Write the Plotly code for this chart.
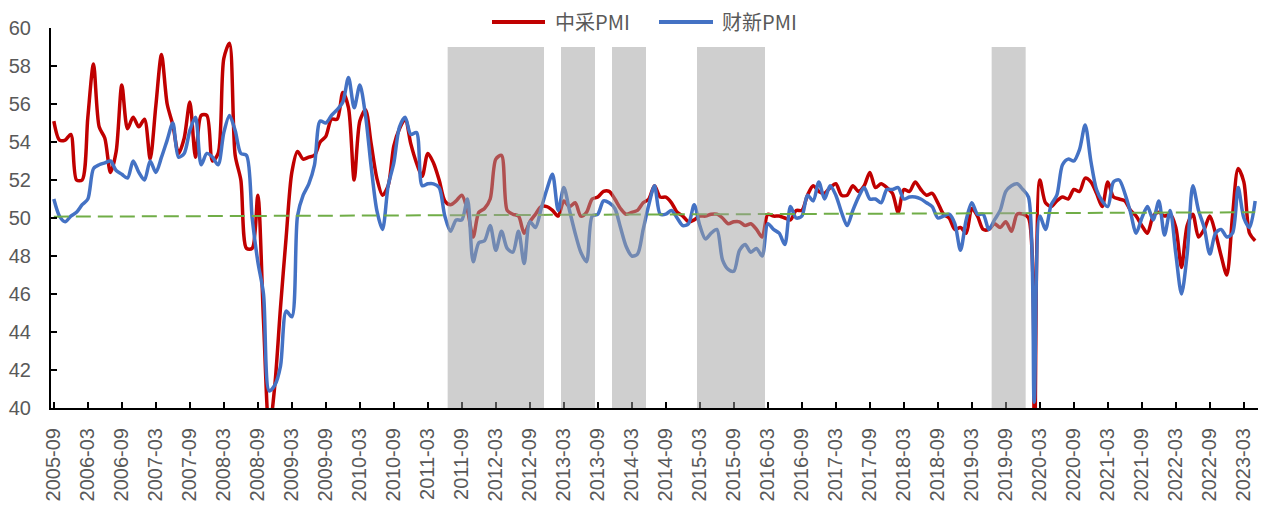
import plotly.graph_objects as go


def month_range(start_year, start_month, end_year, end_month):
    """Consecutive 'YYYY-MM' labels from start to end, inclusive."""
    out = []
    y, m = start_year, start_month
    while (y, m) <= (end_year, end_month):
        out.append(f"{y}-{m:02d}")
        m += 1
        if m > 12:
            y, m = y + 1, 1
    return out


# Monthly categories: 2005-09 ... 2023-05
MONTHS = month_range(2005, 9, 2023, 5)

# Official (NBS / CFLP) manufacturing PMI
CFLP_PMI = [
    55.1, 54.1, 54.1, 54.4,                                                  # 2005 Sep-Dec
    52.0, 52.0, 55.3, 58.1, 54.8, 54.2, 52.4, 53.5, 57.0, 54.7, 55.3, 54.8,  # 2006
    55.2, 53.1, 55.9, 58.6, 56.0, 54.9, 53.4, 54.2, 56.1, 53.2, 55.4, 55.4,  # 2007
    53.0, 53.4, 58.4, 59.2, 53.3, 52.0, 48.4, 48.4, 51.2, 44.6, 38.8, 41.2,  # 2008
    45.3, 49.0, 52.4, 53.5, 53.1, 53.2, 53.3, 54.0, 54.3, 55.2, 55.2, 56.6,  # 2009
    55.8, 52.0, 55.1, 55.7, 53.9, 52.1, 51.2, 51.7, 53.8, 54.7, 55.2, 53.9,  # 2010
    52.9, 52.2, 53.4, 52.9, 52.0, 50.9, 50.7, 50.9, 51.2, 50.4, 49.0, 50.3,  # 2011
    50.5, 51.0, 53.1, 53.3, 50.4, 50.2, 50.1, 49.2, 49.8, 50.2, 50.6, 50.6,  # 2012
    50.4, 50.1, 50.9, 50.6, 50.8, 50.1, 50.3, 51.0, 51.1, 51.4, 51.4, 51.0,  # 2013
    50.5, 50.2, 50.3, 50.4, 50.8, 51.0, 51.7, 51.1, 51.1, 50.8, 50.3, 50.1,  # 2014
    49.8, 49.9, 50.1, 50.1, 50.2, 50.2, 50.0, 49.7, 49.8, 49.8, 49.6, 49.7,  # 2015
    49.4, 49.0, 50.2, 50.1, 50.1, 50.0, 49.9, 50.4, 50.4, 51.2, 51.7, 51.4,  # 2016
    51.3, 51.6, 51.8, 51.2, 51.2, 51.7, 51.4, 51.7, 52.4, 51.6, 51.8, 51.6,  # 2017
    51.3, 50.3, 51.5, 51.4, 51.9, 51.5, 51.2, 51.3, 50.8, 50.2, 50.0, 49.4,  # 2018
    49.5, 49.2, 50.5, 50.1, 49.4, 49.4, 49.7, 49.5, 49.8, 49.3, 50.2, 50.2,  # 2019
    50.0, 35.7, 52.0, 50.8, 50.6, 50.9, 51.1, 51.0, 51.5, 51.4, 52.1, 51.9,  # 2020
    51.3, 50.6, 51.9, 51.1, 51.0, 50.9, 50.4, 50.1, 49.6, 49.2, 50.1, 50.3,  # 2021
    50.1, 50.2, 49.5, 47.4, 49.6, 50.2, 49.0, 49.4, 50.1, 49.2, 48.0, 47.0,  # 2022
    50.1, 52.6, 51.9, 49.2, 48.8,                                            # 2023 Jan-May
]

# Caixin (formerly HSBC) manufacturing PMI
CAIXIN_PMI = [
    51.0, 50.1, 49.8, 50.1,                                                  # 2005 Sep-Dec
    50.3, 50.7, 51.0, 52.6, 52.8, 52.9, 53.0, 52.5, 52.3, 52.1, 53.0, 52.4,  # 2006
    52.0, 53.0, 52.4, 53.2, 54.1, 55.0, 53.2, 53.4, 54.6, 55.3, 52.8, 53.4,  # 2007
    53.2, 52.8, 54.5, 55.4, 54.6, 53.4, 53.3, 50.0, 47.7, 46.0, 40.9, 41.2,  # 2008
    42.2, 45.1, 44.8, 50.1, 51.2, 51.8, 52.8, 55.1, 55.0, 55.4, 55.7, 56.1,  # 2009
    57.4, 55.8, 57.0, 55.4, 52.7, 50.4, 49.4, 51.7, 52.9, 54.8, 55.3, 54.4,  # 2010
    54.5, 51.7, 51.8, 51.8, 51.6, 50.1, 49.3, 49.9, 49.9, 51.0, 47.7, 48.7,  # 2011
    48.8, 49.6, 48.3, 49.3, 48.4, 48.2, 49.3, 47.6, 49.8, 49.5, 50.5, 51.5,  # 2012
    52.3, 50.4, 51.6, 50.4, 49.2, 48.2, 47.7, 50.1, 50.2, 50.9, 50.8, 50.5,  # 2013
    49.5, 48.5, 48.0, 48.1, 49.4, 50.7, 51.7, 50.2, 50.2, 50.4, 50.0, 49.6,  # 2014
    49.7, 50.7, 49.6, 48.9, 49.2, 49.4, 47.8, 47.3, 47.2, 48.3, 48.6, 48.2,  # 2015
    48.4, 48.0, 49.7, 49.4, 49.2, 48.6, 50.6, 50.0, 50.1, 51.2, 50.9, 51.9,  # 2016
    51.0, 51.7, 51.2, 50.3, 49.6, 50.4, 51.1, 51.6, 51.0, 51.0, 50.8, 51.5,  # 2017
    51.5, 51.6, 51.0, 51.1, 51.1, 51.0, 50.8, 50.6, 50.0, 50.1, 50.2, 49.7,  # 2018
    48.3, 49.9, 50.8, 50.2, 50.2, 49.4, 49.9, 50.4, 51.4, 51.7, 51.8, 51.5,  # 2019
    51.1, 40.3, 50.1, 49.4, 50.7, 51.2, 52.8, 53.1, 53.0, 53.6, 54.9, 53.0,  # 2020
    51.5, 50.9, 50.6, 51.9, 52.0, 51.3, 50.3, 49.2, 50.0, 50.6, 49.9, 50.9,  # 2021
    49.1, 50.4, 48.1, 46.0, 48.1, 51.7, 50.4, 49.5, 48.1, 49.2, 49.4, 49.0,  # 2022
    49.2, 51.6, 50.0, 49.5, 50.9,                                            # 2023 Jan-May
]

# Linear trend reference line: value at the first and the last month
TREND_ENDS = [50.07, 50.30]

# Shaded periods (first month, last month) and the height of the shading
SHADE_PERIODS = [
    ("2011-07", "2012-11"),
    ("2013-03", "2013-08"),
    ("2013-12", "2014-05"),
    ("2015-03", "2016-02"),
    ("2019-07", "2019-12"),
]
SHADE_TOP = 59

# Axis ticks
TICK_LABELS = MONTHS[::6]
Y_TICKS = list(range(40, 61, 2))

SERIES = [
    ("中采PMI", CFLP_PMI, "#C00000"),
    ("财新PMI", CAIXIN_PMI, "#4472C4"),
]

LABEL_FONT = dict(family="Liberation Sans", size=20, color="#595959")
LEGEND_FONT = dict(family="Noto Sans CJK SC", size=20, color="#595959")

# Figure geometry (pixels)
W, H = 1271, 509
M_L, M_R, M_T, M_B = 51, 13, 28, 101
PLOT_W, PLOT_H = W - M_L - M_R, H - M_T - M_B


def paper_x(px):
    return (px - M_L) / PLOT_W


def paper_y(py):
    return (H - M_B - py) / PLOT_H


fig = go.Figure()

for name, values, color in SERIES:
    fig.add_trace(go.Scatter(
        x=MONTHS, y=values, name=name, mode="lines", showlegend=False,
        line=dict(color=color, width=3.5, shape="spline", smoothing=0.8),
    ))

fig.add_trace(go.Scatter(
    x=[MONTHS[0], MONTHS[-1]], y=TREND_ENDS, mode="lines", showlegend=False,
    line=dict(color="#70AD47", width=2, dash="15px,7px"),
))

# Translucent grey bands laid over the lines
for start, end in SHADE_PERIODS:
    fig.add_shape(
        type="rect", xref="x", yref="y", layer="above",
        x0=MONTHS.index(start) - 0.5, x1=MONTHS.index(end) + 0.5,
        y0=Y_TICKS[0], y1=SHADE_TOP,
        fillcolor="rgba(160,160,160,0.5)", line=dict(width=0),
    )

# Legend row above the plot: line sample followed by the series name
LEGEND_Y = 22
LEGEND_SLOTS = [(492, 545, 553), (659, 713, 720)]
for (name, _, color), (lx0, lx1, tx) in zip(SERIES, LEGEND_SLOTS):
    fig.add_shape(
        type="line", xref="paper", yref="paper",
        x0=paper_x(lx0), x1=paper_x(lx1), y0=paper_y(LEGEND_Y), y1=paper_y(LEGEND_Y),
        line=dict(color=color, width=4),
    )
    fig.add_annotation(
        xref="paper", yref="paper", x=paper_x(tx), y=paper_y(LEGEND_Y),
        xanchor="left", yanchor="middle", text=name, showarrow=False,
        font=LEGEND_FONT,
    )

fig.update_xaxes(
    type="category", categoryorder="array", categoryarray=MONTHS,
    range=[-0.5, len(MONTHS) - 0.5],
    tickmode="array", tickvals=TICK_LABELS, ticktext=TICK_LABELS,
    tickangle=-90, ticks="inside", ticklen=6, tickwidth=1.5, tickcolor="black",
    showline=True, linecolor="black", linewidth=2,
    showgrid=False, zeroline=False,
    tickfont=LABEL_FONT, ticklabelstandoff=10,
)
fig.update_yaxes(
    range=[Y_TICKS[0], Y_TICKS[-1]], tickmode="array", tickvals=Y_TICKS,
    ticks="inside", ticklen=6, tickwidth=1.5, tickcolor="black",
    showline=True, linecolor="black", linewidth=2,
    showgrid=False, zeroline=False,
    tickfont=LABEL_FONT, ticklabelstandoff=14,
)

fig.update_layout(
    width=W, height=H,
    margin=dict(l=M_L, r=M_R, t=M_T, b=M_B, autoexpand=False),
    paper_bgcolor="white", plot_bgcolor="white",
    showlegend=False,
)

fig.write_html("out.html")
